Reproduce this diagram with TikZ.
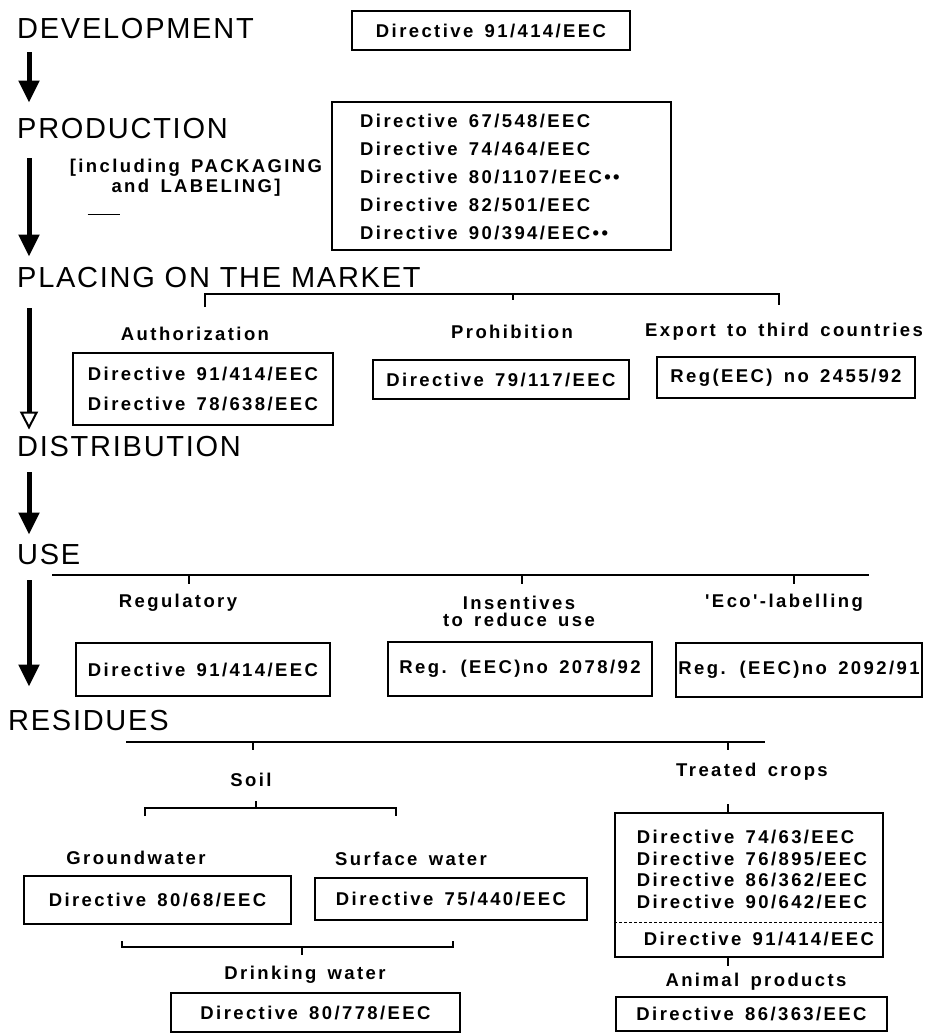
\documentclass[tikz,border=0pt]{standalone}
\usepackage{fontspec}
\setmainfont{Liberation Sans}
\newfontfamily\headfont[LetterSpace=6]{Liberation Sans}
\newfontfamily\labfont[LetterSpace=13, WordSpace=1.5]{Liberation Sans}
\usetikzlibrary{arrows.meta}

\begin{document}
\begin{tikzpicture}[x=1pt, y=-1pt,
my head/.style  = {anchor=west, inner sep=0pt,
                   font=\headfont\fontsize{29}{33}\selectfont},
my label/.style = {inner sep=0pt, align=center,
                   font=\labfont\bfseries\fontsize{18.5}{20}\selectfont},
my box/.style   = {draw, line width=1.8pt, inner sep=0pt, align=center,
                   font=\labfont\bfseries\fontsize{18.5}{30}\selectfont},
my arrow/.style = {line width=5pt, -{Triangle[width=20pt, length=22pt]}},
my brace/.style = {line width=2.4pt},
my tick/.style  = {line width=1.2pt}
                   ]
\useasboundingbox (0,0) rectangle (930,1034);

% stages
\node[my head] (dev)   at (17,29)    {DEVELOPMENT};
\node[my head] (prod)  at (17,128.5) {PRODUCTION};
\node[my head] (place) at (17,278)   {PLACING ON THE MARKET};
\node[my head] (dist)  at (17,446.5) {DISTRIBUTION};
\node[my head] (use)   at (17,555)   {USE};
\node[my head] (res)   at (8,720.5)  {RESIDUES};

\draw[my arrow] ([xshift=12pt,yshift=-13pt]dev.south west)
             -- ([xshift=12pt,yshift=15.5pt]prod.north west);
\draw[my arrow] ([xshift=12pt,yshift=-19.5pt]prod.south west)
             -- ([xshift=12pt,yshift=11pt]place.north west);
\draw[line width=5pt, -{Triangle[open, line width=2pt, width=18pt, length=18pt]}]
                ([xshift=12pt,yshift=-20pt]place.south west)
             -- ([xshift=12pt,yshift=6.5pt]dist.north west);
\draw[my arrow] ([xshift=12pt,yshift=-15.5pt]dist.south west)
             -- ([xshift=12pt,yshift=10pt]use.north west);
\draw[my arrow] ([xshift=12pt,yshift=-15pt]use.south west)
             -- ([xshift=21pt,yshift=23.5pt]res.north west);

% development, production
\node[my box, minimum width=278pt, minimum height=39pt] (devbox) at (491,30.5)
     {Directive 91/414/EEC};
\node[my label] (pack) at (196,178) {[including PACKAGING\\and LABELING]};
\draw[my tick] ([xshift=18pt,yshift=-18pt]pack.south west) -- ++(32,0);
\node[my box, minimum width=339pt, minimum height=148pt] (prodbox) at (501.5,176) {};
\node[my label, anchor=west, align=left,
      font=\labfont\bfseries\fontsize{18.5}{28}\selectfont] (prodlist) at (360,177)
     {Directive 67/548/EEC\\Directive 74/464/EEC\\Directive 80/1107/EEC••\\
      Directive 82/501/EEC\\Directive 90/394/EEC••};

% placing on the market
\coordinate (pm l) at (205,294);
\coordinate (pm r) at (779,294);
\draw[my brace] ([yshift=-13pt]pm l) -- (pm l) -- (pm r) -- ([yshift=-11pt]pm r);
\draw[my tick] (513,294) -- (513,300);
\node[my label] (auth) at (195,334) {Authorization};
\node[my label] (proh) at (512,332) {Prohibition};
\node[my label] (expo) at (784,332) {Export to third countries};
\node[my box, minimum width=260pt, minimum height=72pt] (authbox) at (203,389)
     {Directive 91/414/EEC\\Directive 78/638/EEC};
\node[my box, minimum width=256pt, minimum height=39pt] (prohbox) at (501,379.5)
     {Directive 79/117/EEC};
\node[my box, minimum width=258pt, minimum height=41pt] (expobox) at (786,377.5)
     {Reg(EEC) no 2455/92};

% use
\coordinate (use l) at (52,575);
\coordinate (use r) at (869,575);
\draw[my brace] (use l) -- (use r);
\foreach \x in {189,522,794}
  \draw[my tick] (\x,575) -- (\x,584);
\node[my label] (regu) at (178,603) {Regulatory};
\node[my label, font=\labfont\bfseries\fontsize{18.5}{17}\selectfont] (ince) at (519,611)
     {Insentives\\to reduce use};
\node[my label] (eco)  at (784,603) {'Eco'-labelling};
\node[my box, minimum width=254pt, minimum height=53pt] (regubox) at (203,669.5)
     {Directive 91/414/EEC};
\node[my box, minimum width=264pt, minimum height=54pt] (incebox) at (520,669)
     {Reg. (EEC)no 2078/92};
\node[my box, minimum width=246pt, minimum height=54pt] (ecobox) at (799,670)
     {Reg. (EEC)no 2092/91};

% residues
\coordinate (res l) at (126,742);
\coordinate (res r) at (765,742);
\draw[my brace] (res l) -- (res r);
\draw[my tick] (253,742) -- (253,750);
\draw[my tick] (728,742) -- (728,750);
\node[my label] (soil)  at (251,780) {Soil};
\node[my label] (crop)  at (752,772) {Treated crops};

\coordinate (soil l) at (145,808);
\coordinate (soil r) at (396,808);
\draw[my brace] ([yshift=-8pt]soil l) -- (soil l) -- (soil r) -- ([yshift=-8pt]soil r);
\draw[my tick] (256,808) -- (256,801);
\node[my label] (grou) at (136,858) {Groundwater};
\node[my label] (surf) at (411,859) {Surface water};
\node[my box, minimum width=267pt, minimum height=48pt] (groubox) at (157.5,900)
     {Directive 80/68/EEC};
\node[my box, minimum width=272pt, minimum height=42pt] (surfbox) at (451,899)
     {Directive 75/440/EEC};

\coordinate (drin l) at (122,947);
\coordinate (drin r) at (453,947);
\draw[my brace] ([yshift=6pt]drin l) -- (drin l) -- (drin r) -- ([yshift=6pt]drin r);
\draw[my tick] (302,947) -- (302,955);
\node[my label] (drin) at (305,975) {Drinking water};
\node[my box, minimum width=289pt, minimum height=39pt] (drinbox) at (315.5,1012.5)
     {Directive 80/778/EEC};

\node[my box, minimum width=268pt, minimum height=144pt] (cropbox) at (749,885) {};
\draw[my tick] ([xshift=-21pt]cropbox.north) -- ++(0,-8);
\node[my label, align=left, font=\labfont\bfseries\fontsize{18.5}{21.5}\selectfont]
     (crop1) at (752,869.5)
     {Directive 74/63/EEC\\Directive 76/895/EEC\\Directive 86/362/EEC\\Directive 90/642/EEC};
\draw[line width=1pt, dash pattern=on 3pt off 2pt]
     ([yshift=-37pt]cropbox.west) -- ([yshift=-37pt]cropbox.east);
\node[my label] (crop2) at (759,939) {Directive 91/414/EEC};
\draw[my tick] ([xshift=-21pt]cropbox.south) -- ++(0,8);
\node[my label] (anim) at (756,982) {Animal products};
\node[my box, minimum width=271pt, minimum height=34pt] (animbox) at (751.5,1014)
     {Directive 86/363/EEC};

\end{tikzpicture}
\end{document}
